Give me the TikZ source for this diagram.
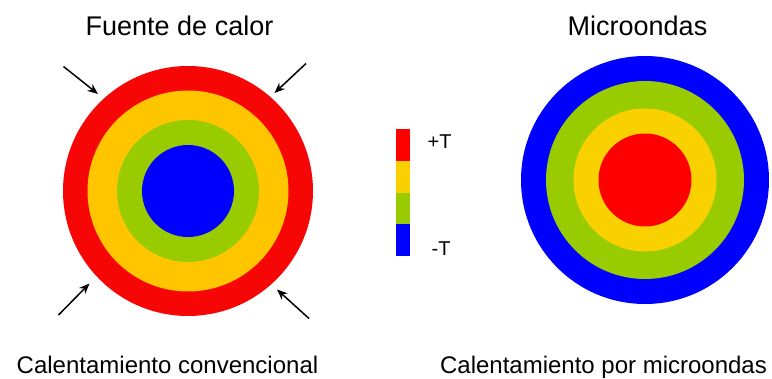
\documentclass[tikz,border=0pt]{standalone}
\usepackage{fontspec}
\setmainfont{Liberation Sans}
\usetikzlibrary{arrows.meta}
\definecolor{lred}{HTML}{F70606}
\definecolor{rred}{HTML}{FF0000}
\definecolor{lyel}{HTML}{FFC600}
\definecolor{ryel}{HTML}{F9D000}
\definecolor{grn}{HTML}{99CC00}
\definecolor{blu}{HTML}{0000FF}
\tikzset{
  disc/.style={circle, inner sep=0pt, draw=none},
  title/.style={anchor=base, inner sep=0pt, font=\fontsize{27}{30}\selectfont},
  caption/.style={anchor=base, inner sep=0pt, font=\fontsize{24}{28}\selectfont},
  leglabel/.style={anchor=base west, inner sep=0pt, font=\fontsize{20}{22}\selectfont},
  heat/.style={line width=1.5pt, -{Stealth[length=10.5pt,width=8.5pt]}},
  seg/.style={minimum width=14pt, minimum height=32pt, inner sep=0pt, anchor=north west, draw=none}
}
\begin{document}
\begin{tikzpicture}[x=1pt,y=-1pt]
\useasboundingbox (0,0) rectangle (772,378);
% left: conventional
\node[disc, fill=lred, minimum size=250pt] (L1) at (188,191) {};
\node[disc, fill=lyel, minimum size=201pt] (L2) at (188,191) {};
\node[disc, fill=grn, minimum size=142pt] (L3) at (188,191) {};
\node[disc, fill=blu, minimum size=92pt] (L4) at (188,191) {};
% right: microwave
\node[disc, fill=blu, minimum size=248pt] (R1) at (645,180) {};
\node[disc, fill=grn, minimum size=198pt] (R2) at (645,180) {};
\node[disc, fill=ryel, minimum size=143pt] (R3) at (645,180) {};
\node[disc, fill=rred, minimum size=93pt] (R4) at (645,180) {};
% legend
\node[seg, fill=rred] (S1) at (396,129) {};
\node[seg, fill=ryel] (S2) at (396,161) {};
\node[seg, fill=grn] (S3) at (396,193) {};
\node[seg, fill=blu, minimum height=32pt] (S4) at (396,224) {};
\node[leglabel] (Tp) at (427.5,148.5) {+T};
\node[leglabel] (Tm) at (431.5,255) {-T};
% titles
\node[title] (t1) at (179.5,35) {Fuente de calor};
\node[title] (t2) at (637.5,35) {Microondas};
\node[caption] (c1) at (167.5,373) {Calentamiento convencional};
\node[caption] (c2) at (603.5,373) {Calentamiento por microondas};
% arrows
\coordinate (a1s) at (63.5,66.5);  \coordinate (a1e) at (98,94);
\coordinate (a2s) at (306,63.5);   \coordinate (a2e) at (274.5,93);
\coordinate (a3s) at (58.5,315);   \coordinate (a3e) at (89.5,283.5);
\coordinate (a4s) at (309,318.5);  \coordinate (a4e) at (277,289.5);
\draw[heat] (a1s) -- (a1e);
\draw[heat] (a2s) -- (a2e);
\draw[heat] (a3s) -- (a3e);
\draw[heat] (a4s) -- (a4e);
\end{tikzpicture}
\end{document}
